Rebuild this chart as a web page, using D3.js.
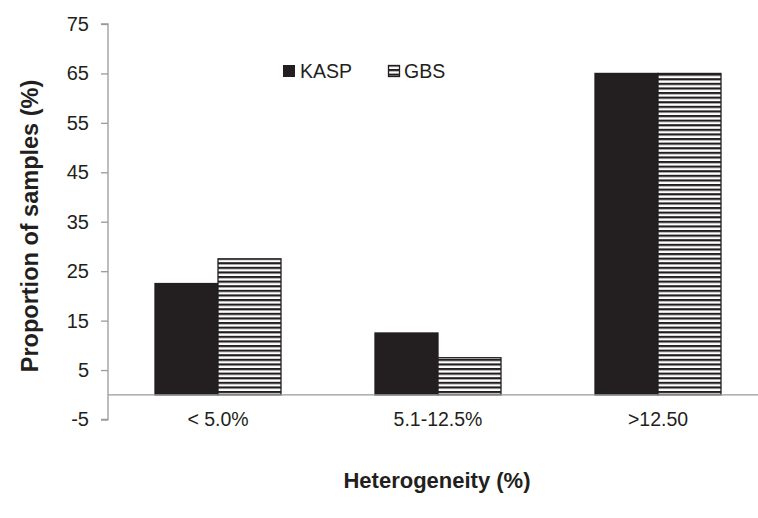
<!DOCTYPE html>
<html><head><meta charset="utf-8">
<script src="https://cdn.jsdelivr.net/npm/d3@7"></script>
<style>body{margin:0;background:#fff}svg{display:block}</style>
</head><body>
<script>
const categories = ["< 5.0%", "5.1-12.5%", ">12.50"];
const seriesNames = ["KASP", "GBS"];
const kasp = [22.5, 12.5, 65];
const gbs = [27.5, 7.5, 65];
const yTicks = [-5, 5, 15, 25, 35, 45, 55, 65, 75];

const W = 758, H = 518;
const FONT = "Liberation Sans, Arial, sans-serif";
const svg = d3.select("body").append("svg").attr("width", W).attr("height", H);
const defs = svg.append("defs");
const pat = defs.append("pattern").attr("id","stripes").attr("patternUnits","userSpaceOnUse")
  .attr("width", 10).attr("height", 4.6);
pat.append("rect").attr("width",10).attr("height",4.6).attr("fill","#fff");
pat.append("rect").attr("y",0).attr("width",10).attr("height",2.2).attr("fill","#231f20");

const ink = "#231f20", axisCol = "#9a9a9a";
const y = d3.scaleLinear().domain([-5, 75]).range([419.5, 24]);
const x0 = d3.scaleBand().domain(categories).range([108, 768]).paddingInner(0).paddingOuter(0);
const x1 = d3.scaleBand().domain(seriesNames).range([0, x0.bandwidth()]).paddingInner(0).paddingOuter(0.746);

// y axis
const yAxis = d3.axisLeft(y).tickValues(yTicks).tickSize(7).tickPadding(12).tickFormat(d => String(d));
const gy = svg.append("g").attr("transform","translate(108,0)").call(yAxis);
gy.select(".domain").attr("stroke", axisCol).attr("stroke-width",1.3).attr("d", `M-7,${y(75)}H0V${y(-5)}H-7`);
gy.selectAll(".tick line").attr("stroke", axisCol).attr("stroke-width",1.3);
gy.selectAll(".tick text").attr("font-family",FONT).attr("font-size",20).attr("fill", ink);

// bars
const data = categories.map((c,i)=>({c, vals:[{s:"KASP",v:kasp[i]},{s:"GBS",v:gbs[i]}]}));
const g = svg.append("g");
data.forEach(d=>{
  d.vals.forEach(e=>{
    g.append("rect")
      .attr("x", x0(d.c)+x1(e.s))
      .attr("y", y(e.v))
      .attr("width", x1.bandwidth())
      .attr("height", y(0)-y(e.v))
      .attr("fill", e.s==="KASP" ? ink : "url(#stripes)")
      .attr("stroke", ink).attr("stroke-width",1.3);
  });
});

// x axis at zero
const xAxis = d3.axisBottom(x0).tickSize(0).tickPadding(17);
const gx = svg.append("g").attr("transform",`translate(0,${y(0)})`).call(xAxis);
gx.select(".domain").attr("stroke", axisCol).attr("stroke-width",1.3).attr("d", `M108,0H758`);
gx.selectAll(".tick text").attr("font-family",FONT).attr("font-size",19.5).attr("fill", ink);

// legend
const leg = svg.append("g").attr("font-family",FONT).attr("font-size",19.5).attr("fill",ink);
leg.append("rect").attr("x",283).attr("y",65).attr("width",12).attr("height",12).attr("fill",ink);
leg.append("text").attr("x",300).attr("y",78).text(seriesNames[0]);
leg.append("rect").attr("x",388.5).attr("y",65.5).attr("width",11).attr("height",11).attr("fill","url(#stripes)").attr("stroke",ink).attr("stroke-width",1.3);
leg.append("text").attr("x",404).attr("y",78).text(seriesNames[1]);

// titles
svg.append("text").attr("x",437).attr("y",488).attr("text-anchor","middle")
  .attr("font-family",FONT).attr("font-size",22).attr("font-weight","bold").attr("fill",ink)
  .text("Heterogeneity (%)");
svg.append("text").attr("transform","translate(38,226) rotate(-90)").attr("text-anchor","middle")
  .attr("font-family",FONT).attr("font-size",23.5).attr("font-weight","bold").attr("fill",ink)
  .text("Proportion of samples (%)");
</script>
</body></html>
